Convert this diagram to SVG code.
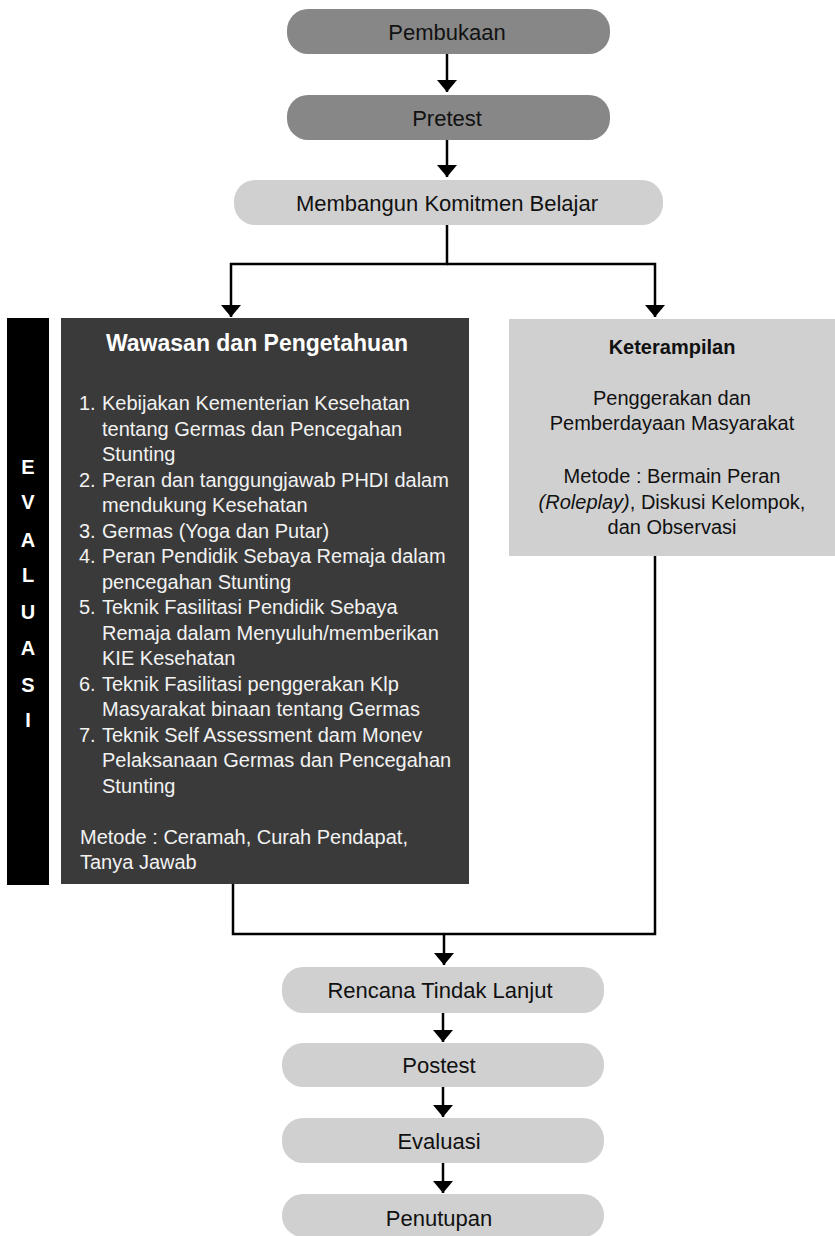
<svg xmlns="http://www.w3.org/2000/svg" width="835" height="1236" viewBox="0 0 835 1236">
<defs>
<style>
text{font-family:"Liberation Sans",Arial,sans-serif;}
.pill-dark{fill:#878787;}
.pill-light{fill:#d0d0d0;}
.pt{font-size:22px;fill:#111;text-anchor:middle;}
.body{font-size:20px;fill:#f2f2f2;}
.rbody{font-size:20px;fill:#111;text-anchor:middle;}
.ev{font-size:20px;font-weight:bold;fill:#fff;text-anchor:middle;}
.conn{fill:none;stroke:#000;stroke-width:2.5;}
</style>
<marker id="ah" markerUnits="userSpaceOnUse" markerWidth="12" markerHeight="20" viewBox="0 0 12 20" refX="12" refY="10" orient="auto">
<path d="M0,0 L12,10 L0,20 Z" fill="#000"/>
</marker>
</defs>
<rect width="835" height="1236" fill="#fff"/>

<g id="connectors">
<path class="conn" d="M447,54 V92" marker-end="url(#ah)"/>
<path class="conn" d="M447,140 V177" marker-end="url(#ah)"/>
<path class="conn" d="M447,225 V264 H231 V317" marker-end="url(#ah)"/>
<path class="conn" d="M447,264 H655 V317" marker-end="url(#ah)"/>
<path class="conn" d="M233,884 V934 H655 V556"/>
<path class="conn" d="M444,934 V965" marker-end="url(#ah)"/>
<path class="conn" d="M443,1013 V1042" marker-end="url(#ah)"/>
<path class="conn" d="M443,1087 V1117" marker-end="url(#ah)"/>
<path class="conn" d="M443,1163 V1193" marker-end="url(#ah)"/>
</g>

<g id="pembukaan">
<rect class="pill-dark" x="287" y="9" width="323" height="45" rx="21"/>
<text class="pt" x="447" y="40">Pembukaan</text>
</g>
<g id="pretest">
<rect class="pill-dark" x="287" y="95" width="323" height="45" rx="21"/>
<text class="pt" x="447" y="126">Pretest</text>
</g>
<g id="membangun">
<rect class="pill-light" x="234" y="180" width="429" height="45" rx="21"/>
<text class="pt" x="447" y="211">Membangun Komitmen Belajar</text>
</g>

<g id="evaluasi-bar">
<rect x="7" y="318" width="42" height="567" fill="#000"/>
<text class="ev" x="28" y="474">E</text>
<text class="ev" x="28" y="509">V</text>
<text class="ev" x="28" y="547">A</text>
<text class="ev" x="28" y="582">L</text>
<text class="ev" x="28" y="619">U</text>
<text class="ev" x="28" y="655">A</text>
<text class="ev" x="28" y="692">S</text>
<text class="ev" x="28" y="727">I</text>
</g>

<g id="wawasan">
<rect x="61" y="318" width="408" height="566" fill="#3a3a3a"/>
<text x="257" y="351" font-size="23" font-weight="bold" fill="#fff" text-anchor="middle">Wawasan dan Pengetahuan</text>
<text class="body" x="79" y="410">1.</text>
<text class="body" x="102" y="410">Kebijakan Kementerian Kesehatan</text>
<text class="body" x="102" y="435.5">tentang Germas dan Pencegahan</text>
<text class="body" x="102" y="461">Stunting</text>
<text class="body" x="79" y="486.5">2.</text>
<text class="body" x="102" y="486.5">Peran dan tanggungjawab PHDI dalam</text>
<text class="body" x="102" y="512">mendukung Kesehatan</text>
<text class="body" x="79" y="537.5">3.</text>
<text class="body" x="102" y="537.5">Germas (Yoga dan Putar)</text>
<text class="body" x="79" y="563">4.</text>
<text class="body" x="102" y="563">Peran Pendidik Sebaya Remaja dalam</text>
<text class="body" x="102" y="588.5">pencegahan Stunting</text>
<text class="body" x="79" y="614">5.</text>
<text class="body" x="102" y="614">Teknik Fasilitasi Pendidik Sebaya</text>
<text class="body" x="102" y="639.5">Remaja dalam Menyuluh/memberikan</text>
<text class="body" x="102" y="665">KIE Kesehatan</text>
<text class="body" x="79" y="690.5">6.</text>
<text class="body" x="102" y="690.5">Teknik Fasilitasi penggerakan Klp</text>
<text class="body" x="102" y="716">Masyarakat binaan tentang Germas</text>
<text class="body" x="79" y="741.5">7.</text>
<text class="body" x="102" y="741.5">Teknik Self Assessment dam Monev</text>
<text class="body" x="102" y="767">Pelaksanaan Germas dan Pencegahan</text>
<text class="body" x="102" y="792.5">Stunting</text>
<text class="body" x="80" y="843.5">Metode : Ceramah, Curah Pendapat,</text>
<text class="body" x="80" y="869">Tanya Jawab</text>
</g>

<g id="keterampilan">
<rect x="509" y="319" width="326" height="237" fill="#d0d0d0"/>
<text x="672" y="354" font-size="20" font-weight="bold" fill="#111" text-anchor="middle">Keterampilan</text>
<text class="rbody" x="672" y="405">Penggerakan dan</text>
<text class="rbody" x="672" y="430">Pemberdayaan Masyarakat</text>
<text class="rbody" x="672" y="483">Metode : Bermain Peran</text>
<text class="rbody" x="672" y="509"><tspan font-style="italic">(Roleplay)</tspan>, Diskusi Kelompok,</text>
<text class="rbody" x="672" y="534">dan Observasi</text>
</g>

<g id="rencana">
<rect class="pill-light" x="282" y="967" width="322" height="46" rx="21"/>
<text class="pt" x="440" y="998">Rencana Tindak Lanjut</text>
</g>
<g id="postest">
<rect class="pill-light" x="282" y="1043" width="322" height="44" rx="21"/>
<text class="pt" x="439" y="1073">Postest</text>
</g>
<g id="evaluasi">
<rect class="pill-light" x="282" y="1118" width="322" height="45" rx="21"/>
<text class="pt" x="439" y="1148.5">Evaluasi</text>
</g>
<g id="penutupan">
<rect class="pill-light" x="282" y="1194" width="322" height="43" rx="21"/>
<text class="pt" x="439" y="1226">Penutupan</text>
</g>
</svg>
